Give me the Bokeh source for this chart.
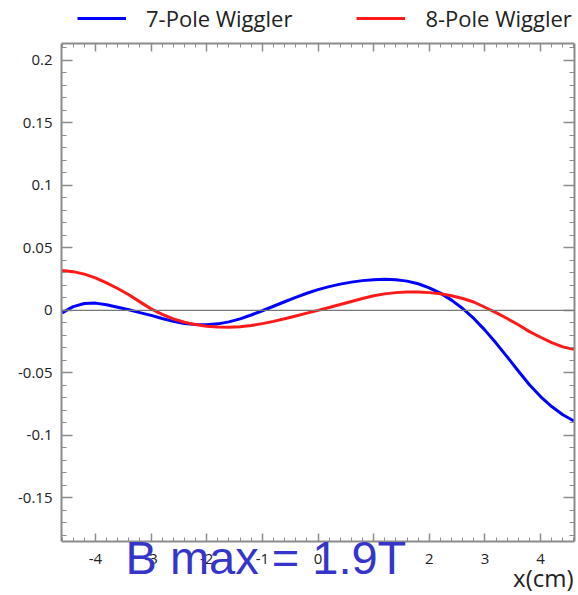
from bokeh.plotting import figure
from bokeh.models import (Range1d, FixedTicker, LinearAxis, Span, Label, Legend, LegendItem)
from bokeh.embed import file_html
from bokeh.resources import INLINE

# ---- data ----
x_vals = [-4.6, -4.4, -4.2, -4.0, -3.8, -3.6, -3.4, -3.2, -3.0, -2.8, -2.6, -2.4, -2.2, -2.0,
          -1.8, -1.6, -1.4, -1.2, -1.0, -0.8, -0.6, -0.4, -0.2, 0.0, 0.2, 0.4, 0.6, 0.8, 1.0,
          1.2, 1.4, 1.6, 1.8, 2.0, 2.2, 2.4, 2.6, 2.8, 3.0, 3.2, 3.4, 3.6, 3.8, 4.0, 4.2, 4.4, 4.6]
pole7 = [-0.002, 0.003, 0.0055, 0.0058, 0.0045, 0.0025, 0.0005, -0.0018, -0.004, -0.0065,
         -0.0088, -0.0105, -0.0114, -0.0115, -0.0108, -0.0092, -0.0068, -0.0037, -0.0003, 0.0033,
         0.0069, 0.0104, 0.0137, 0.0166, 0.019, 0.021, 0.0226, 0.0238, 0.0246, 0.0249, 0.0245,
         0.0234, 0.0213, 0.018, 0.0138, 0.0082, 0.0015, -0.0065, -0.0158, -0.0262, -0.0372,
         -0.0485, -0.0595, -0.069, -0.077, -0.0835, -0.0885]
pole8 = [0.032, 0.031, 0.029, 0.026, 0.022, 0.0175, 0.0125, 0.0068, 0.0012, -0.0032, -0.0068,
         -0.0095, -0.0114, -0.0127, -0.0133, -0.0135, -0.0131, -0.0121, -0.0106, -0.0088,
         -0.0067, -0.0045, -0.0022, 0.0, 0.0023, 0.0047, 0.0071, 0.0095, 0.0117, 0.0132,
         0.0142, 0.0147, 0.0147, 0.0142, 0.0133, 0.0117, 0.0095, 0.0067, 0.0025, -0.0018,
         -0.0065, -0.0115, -0.017, -0.0215, -0.0258, -0.0292, -0.0312]

x_ticks = [-4, -3, -2, -1, 0, 1, 2, 3, 4]
x_tick_labels = ["-4", "-3", "-2", "-1", "0", "1", "2", "3", "4"]
y_ticks = [-0.15, -0.1, -0.05, 0.0, 0.05, 0.1, 0.15, 0.2]
y_tick_labels = ["-0.15", "-0.1", "-0.05", "0", "0.05", "0.1", "0.15", "0.2"]
series_names = ["7-Pole Wiggler", "8-Pole Wiggler"]
annotation_text = "B max = 1.9T"
x_title = "x(cm)"

# ---- layout constants ----
W, H = 578, 595
BOX_LEFT, BOX_RIGHT, BOX_TOP, BOX_BOTTOM = 61, 574, 43, 541   # pixel box of the plot area
X_MIN, X_MAX = -4.61, 4.61
Y_BOT, Y_TOP = -0.185, 0.2136
per_px = (Y_TOP - Y_BOT) / (BOX_BOTTOM - BOX_TOP)
frame_y_top = Y_TOP + BOX_TOP * per_px
frame_y_bot = Y_BOT - (H - BOX_BOTTOM) * per_px

FONT = "Open Sans"
GRAY = "#8c8c8c"
TXT = "#222222"

p = figure(width=W, height=H, output_backend="svg", toolbar_location=None,
           x_range=Range1d(X_MIN, X_MAX), y_range=Range1d(frame_y_bot, frame_y_top),
           x_axis_location=None, y_axis_location=None,
           min_border_left=BOX_LEFT, min_border_right=W - BOX_RIGHT,
           min_border_top=0, min_border_bottom=0)
p.grid.visible = False
p.outline_line_color = None
p.background_fill_color = "white"
p.border_fill_color = "white"

x_minor = [round(-4.6 + 0.2 * i, 2) for i in range(47)]
y_minor = [round(-0.18 + 0.01 * i, 3) for i in range(40)]


def make_axis(kind, labels, fixed=None):
    ax = LinearAxis()
    if kind == "x":
        ax.ticker = FixedTicker(ticks=x_ticks, minor_ticks=x_minor)
        ax.major_tick_in = 8
        ax.minor_tick_in = 4
        if labels:
            ax.major_label_overrides = {t: l for t, l in zip(x_ticks, x_tick_labels)}
    else:
        ax.ticker = FixedTicker(ticks=y_ticks, minor_ticks=y_minor)
        ax.major_tick_in = 11
        ax.minor_tick_in = 5
        ax.bounds = (Y_BOT, Y_TOP)
        if labels:
            ax.major_label_overrides = {t: l for t, l in zip(y_ticks, y_tick_labels)}
    if fixed is not None:
        ax.fixed_location = fixed
    ax.major_tick_out = 0
    ax.minor_tick_out = 0
    ax.axis_line_color = GRAY
    ax.axis_line_width = 2
    ax.major_tick_line_color = GRAY
    ax.minor_tick_line_color = GRAY
    ax.major_tick_line_width = 1.5
    ax.minor_tick_line_width = 1
    if labels:
        ax.major_label_text_font = FONT
        ax.major_label_text_font_size = "15px"
        ax.major_label_text_color = TXT
        ax.major_label_standoff = 9 if kind == "y" else 12
    else:
        ax.major_label_text_color = None
        ax.major_label_text_font_size = "1px"
        ax.major_label_standoff = 0
    return ax


p.add_layout(make_axis("x", True, fixed=Y_BOT), "below")
p.add_layout(make_axis("x", False, fixed=Y_TOP), "above")
p.add_layout(make_axis("y", True), "left")
p.add_layout(make_axis("y", False), "right")

p.add_layout(Span(location=0, dimension="width", line_color="#777777", line_width=1.2))

r7 = p.line(x_vals, pole7, line_color="#0000ff", line_width=3)
r8 = p.line(x_vals, pole8, line_color="#ff1a1a", line_width=3)

legend = Legend(items=[LegendItem(label=series_names[0], renderers=[r7]),
                       LegendItem(label=series_names[1], renderers=[r8])],
                location=(77 - BOX_LEFT, H - 3 - 30),
                orientation="horizontal", glyph_width=49, glyph_height=30, label_height=30,
                label_standoff=20, padding=0, margin=0, spacing=64,
                border_line_color=None, background_fill_alpha=0,
                label_text_font=FONT, label_text_font_size="22px", label_text_color=TXT)
p.add_layout(legend, "center")

p.add_layout(Label(x=573 - BOX_LEFT, y=H - 587 + 10, x_units="screen", y_units="screen",
                   text=x_title, text_align="right", text_baseline="alphabetic", text_font=FONT,
                   text_font_size="24px", text_color=TXT))
p.add_layout(Label(x=125 - BOX_LEFT, y=H - 575 + 18, x_units="screen", y_units="screen",
                   text=annotation_text, text_align="left", text_baseline="alphabetic",
                   text_font="Liberation Sans", text_font_size="47px", text_color="#3535cc"))

open("out.html", "w").write(file_html(p, INLINE))
